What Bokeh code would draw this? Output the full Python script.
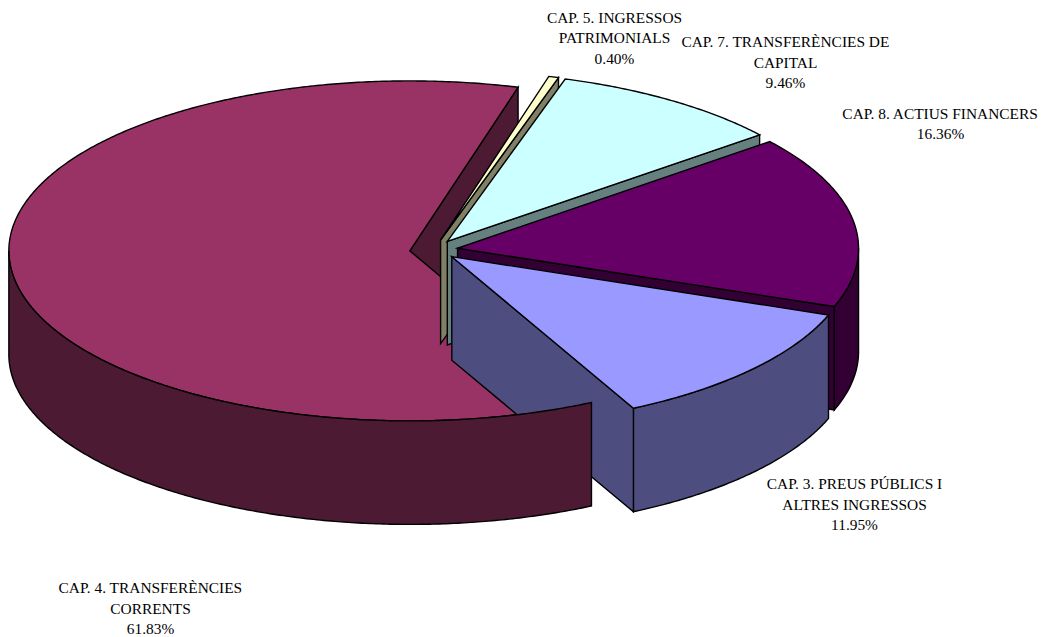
import numpy as np
from bokeh.plotting import figure
from bokeh.embed import file_html
from bokeh.resources import INLINE
from bokeh.core.properties import value

# ---- data -------------------------------------------------------------
chapters = ["CAP. 3", "CAP. 4", "CAP. 5", "CAP. 7", "CAP. 8"]
shares = [11.95, 61.83, 0.40, 9.46, 16.36]
label_lines = [
    ["CAP. 3. PREUS PÚBLICS I", "ALTRES INGRESSOS"],
    ["CAP. 4. TRANSFERÈNCIES", "CORRENTS"],
    ["CAP. 5. INGRESSOS", "PATRIMONIALS"],
    ["CAP. 7. TRANSFERÈNCIES DE", "CAPITAL"],
    ["CAP. 8. ACTIUS FINANCERS"],
]
top_colors = ["#9999FF", "#993366", "#FFFFCC", "#CCFFFF", "#660066"]
side_colors = ["#4D4D80", "#4D1A33", "#808066", "#668080", "#330033"]

# ---- layout ------------------------------------------------------------
W, H = 1042, 637
CX, CY = 433.3, 249.4
RX, RY = 401.0, 170.0
DEPTH = 103.5
EXPLODE = 0.06
FIRST_ANGLE = 110.05
LW = 1.4
label_pos = [(854, 483), (150, 587), (614, 16.5), (785, 41), (940, 112.5)]
LINE_STEP = 20.6

p = figure(width=W, height=H, x_range=(0, W), y_range=(H, 0),
           output_backend="svg", toolbar_location=None, min_border=0,
           x_axis_location=None, y_axis_location=None)
p.outline_line_color = None
p.grid.visible = False
p.background_fill_color = "white"
p.border_fill_color = "white"

sweeps = np.array(shares) / 100 * 360
starts = FIRST_ANGLE + np.concatenate([[0], np.cumsum(sweeps)[:-1]])
ends = starts + sweeps


def apex(i):
    mid = np.radians((starts[i] + ends[i]) / 2)
    return (CX + EXPLODE * RX * np.sin(mid), CY - EXPLODE * RY * np.cos(mid))


def arc(i, a, b):
    ax, ay = apex(i)
    t = np.radians(np.linspace(a, b, max(2, int(abs(b - a) * 2))))
    return ax + RX * np.sin(t), ay - RY * np.cos(t)


def poly(xs, ys, color):
    p.patch(xs, ys, fill_color=color, line_color="black", line_width=LW, line_join="miter")


def draw_top(i):
    ax, ay = apex(i)
    x, y = arc(i, starts[i], ends[i])
    poly(np.r_[ax, x], np.r_[ay, y], top_colors[i])


def draw_walls(i):
    ax, ay = apex(i)
    for ang, sign in ((ends[i], 1), (starts[i], -1)):
        if sign * np.sin(np.radians(ang)) > 0:
            ex = ax + RX * np.sin(np.radians(ang))
            ey = ay - RY * np.cos(np.radians(ang))
            poly([ax, ex, ex, ax], [ay, ey, ey + DEPTH, ay + DEPTH], side_colors[i])


def draw_rim(i):
    # front-facing part of the outer edge (90..270 degrees, also modulo 360)
    for shift in (0, 360):
        a = max(starts[i], 90 + shift)
        b = min(ends[i], 270 + shift)
        if b > a:
            x, y = arc(i, a, b)
            poly(np.r_[x, x[::-1]], np.r_[y, y[::-1] + DEPTH], side_colors[i])


CAP3, CAP4, CAP5, CAP7, CAP8 = range(5)
# Painting order of the original chart engine
draw_walls(CAP4)
draw_top(CAP4)
for i in (CAP5, CAP7, CAP8, CAP3):
    draw_rim(i)
    draw_walls(i)
    draw_top(i)
draw_rim(CAP4)

# ---- labels ------------------------------------------------------------
tx, ty, tt = [], [], []
for i, (lx, ly) in enumerate(label_pos):
    lines = label_lines[i] + [f"{shares[i]:.2f}%"]
    for k, s in enumerate(lines):
        tx.append(lx)
        ty.append(ly + k * LINE_STEP)
        tt.append(s)
p.text(tx, ty, text=tt, text_align="center", text_baseline="middle",
       text_font=value("Liberation Serif"), text_font_size="15.4px", text_color="black")

open("out.html", "w").write(file_html(p, INLINE))
